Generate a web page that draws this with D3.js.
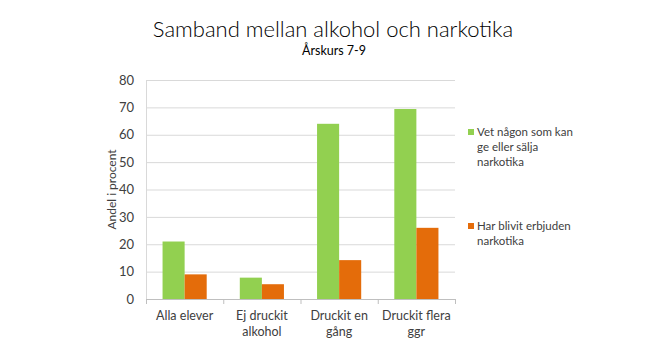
<!DOCTYPE html>
<html>
<head>
<meta charset="utf-8">
<script src="https://cdn.jsdelivr.net/npm/d3@7"></script>
<style>
  body { margin: 0; background: #fff; }
  text { font-family: Lato, 'Open Sans', sans-serif; fill: #404040; }
</style>
</head>
<body>
<svg id="chart" width="666" height="351"></svg>
<script>
var categories = [['Alla elever'], ['Ej druckit', 'alkohol'], ['Druckit en', 'gång'], ['Druckit flera', 'ggr']]
var knowSeller = [21, 7.8, 64, 69.4]
var offered = [9, 5.4, 14.2, 26]
var yTicks = [0, 10, 20, 30, 40, 50, 60, 70, 80]
var seriesNames = [['Vet någon som kan', 'ge eller sälja', 'narkotika'], ['Har blivit erbjuden', 'narkotika']]
var colors = ['#92d050', '#e46c0a']

var svg = d3.select('#chart')
var m = {left: 146, right: 211, top: 80, bottom: 52}
var width = 666 - m.left - m.right
var height = 351 - m.top - m.bottom

var x = d3.scaleBand().domain(d3.range(categories.length)).range([0, width]).paddingInner(0).paddingOuter(0)
var x1 = d3.scaleBand().domain([0, 1]).range([0, x.bandwidth()]).paddingOuter(0.75).paddingInner(0)
var y = d3.scaleLinear().domain([0, 80]).range([height, 0])

var g = svg.append('g').attr('transform', `translate(${m.left},${m.top})`)

// gridlines
g.selectAll('line.grid').data(yTicks.slice(1)).join('line')
  .attr('x1', 0).attr('x2', width)
  .attr('y1', d => y(d) + 0.5).attr('y2', d => y(d) + 0.5)
  .attr('stroke', '#d9d9d9')

// y axis
var yAxis = g.append('g').call(d3.axisLeft(y).tickValues(yTicks).tickSize(0).tickPadding(12))
yAxis.select('.domain').attr('stroke', '#d9d9d9')
yAxis.selectAll('text').style('font-size', '13px').attr('fill', '#404040')

// bars
var series = [knowSeller, offered]
series.forEach((vals, s) => {
  g.selectAll('rect.s' + s).data(vals).join('rect')
    .attr('x', (d, i) => x(i) + x1(s))
    .attr('width', x1.bandwidth())
    .attr('y', d => y(d))
    .attr('height', d => height - y(d))
    .attr('fill', colors[s])
})

// x axis
var xAxis = g.append('g').attr('transform', `translate(0,${height})`)
xAxis.append('line').attr('x1', 0).attr('x2', width).attr('y1', 0.5).attr('y2', 0.5).attr('stroke', '#bfbfbf')
xAxis.selectAll('line.tk').data(d3.range(categories.length + 1)).join('line')
  .attr('x1', d => (d < categories.length ? x(d) : width) + 0.5)
  .attr('x2', d => (d < categories.length ? x(d) : width) + 0.5)
  .attr('y1', 0).attr('y2', 5).attr('stroke', '#bfbfbf')
xAxis.selectAll('text.lab').data(categories).join('text')
  .attr('x', (d, i) => x(i) + x.bandwidth() / 2)
  .attr('text-anchor', 'middle')
  .style('font-size', '12.5px')
  .selectAll('tspan').data(d => d).join('tspan')
  .attr('x', function() { return this.parentNode.getAttribute('x') })
  .attr('y', (d, i) => 21 + i * 16)
  .text(d => d)

// y label
svg.append('text')
  .attr('transform', `translate(116,${m.top + height / 2}) rotate(-90)`)
  .attr('text-anchor', 'middle')
  .style('font-size', '12px')
  .text('Andel i procent')

// legend
var legY = [136, 230]
seriesNames.forEach((lines, s) => {
  svg.append('rect').attr('x', 468).attr('y', legY[s] - 7).attr('width', 6).attr('height', 6).attr('fill', colors[s])
  svg.append('text').style('font-size', '11.5px')
    .selectAll('tspan').data(lines).join('tspan')
    .attr('x', 477).attr('y', (d, i) => legY[s] + i * 15)
    .text(d => d)
})

// titles
svg.append('text').attr('x', 333).attr('y', 37).attr('text-anchor', 'middle')
  .style('font-size', '22px').style('font-weight', 300).style('fill', '#000')
  .text('Samband mellan alkohol och narkotika')
svg.append('text').attr('x', 334).attr('y', 55).attr('text-anchor', 'middle')
  .style('font-size', '12.5px').style('fill', '#000')
  .text('Årskurs 7-9')
</script>
</body>
</html>
